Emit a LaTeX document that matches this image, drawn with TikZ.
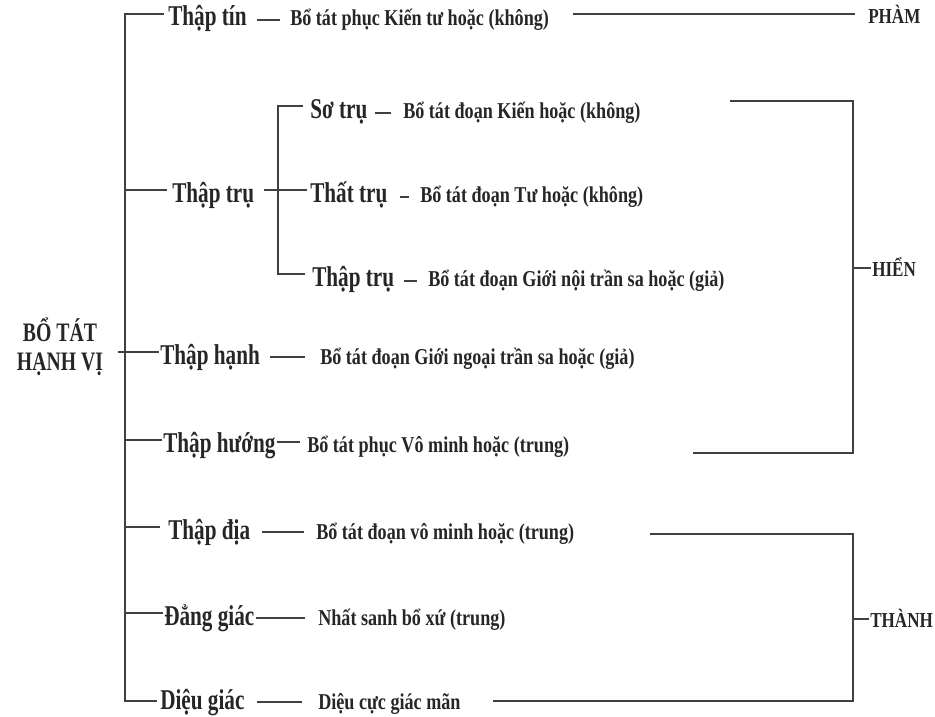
\documentclass[tikz,border=0pt]{standalone}
\usepackage{fontspec}
\setmainfont{Liberation Serif}[FakeStretch=0.8]
\newfontfamily\bigfont{Liberation Serif}[FakeStretch=0.74]
\usetikzlibrary{calc}
\begin{document}
\begin{tikzpicture}[x=0.75pt,y=-0.75pt,
  ln/.style={line width=1.6pt, draw=black!75},
  dashln/.style={line width=1.3pt, draw=black!75},
  big/.style={anchor=base west, inner sep=0pt, font=\bigfont\bfseries\fontsize{21.5}{22}\selectfont, text=black!85},
  small/.style={anchor=base west, inner sep=0pt, font=\bfseries\fontsize{17}{17}\selectfont, text=black!85},
  tag/.style={anchor=base west, inner sep=0pt, font=\bfseries\fontsize{16}{16}\selectfont, text=black!85},
  rootst/.style={inner sep=0pt, align=center, font=\bigfont\bfseries\fontsize{20}{21.5}\selectfont, text=black!85}
]
\useasboundingbox (0,0) rectangle (935,717);

% root
\node[rootst] (root) at (60,347) {BỔ TÁT\\HẠNH VỊ};

% labels
\node[big] (L1) at (168,26) {Thập tín};
\node[small] (D1) at (290,26) {Bổ tát phục Kiến tư hoặc (không)};
\node[tag] (PHAM) at (868,24) {PHÀM};

\node[big] (L2) at (172,202) {Thập trụ};
\node[big] (S1) at (310,118) {Sơ trụ};
\node[small] (SD1) at (403,118) {Bổ tát đoạn Kiến hoặc (không)};
\node[big] (S2) at (310,202) {Thất trụ};
\node[small] (SD2) at (420,202) {Bổ tát đoạn Tư hoặc (không)};
\node[big] (S3) at (312,286) {Thập trụ};
\node[small] (SD3) at (428,286) {Bổ tát đoạn Giới nội trần sa hoặc (giả)};

\node[big] (L3) at (160,364) {Thập hạnh};
\node[small] (D3) at (320,364) {Bổ tát đoạn Giới ngoại trần sa hoặc (giả)};
\node[big] (L4) at (163,452) {Thập hướng};
\node[small] (D4) at (307,452) {Bổ tát phục Vô minh hoặc (trung)};
\node[tag] (HIEN) at (872,276) {HIỂN};

\node[big] (L5) at (168,539) {Thập địa};
\node[small] (D5) at (316,539) {Bổ tát đoạn vô minh hoặc (trung)};
\node[big] (L6) at (164,625) {Đẳng giác};
\node[small] (D6) at (318,625) {Nhất sanh bổ xứ (trung)};
\node[big] (L7) at (160,709) {Diệu giác};
\node[small] (D7) at (318,709) {Diệu cực giác mãn};
\node[tag] (THANH) at (870,627) {THÀNH};

% spine coordinates
\coordinate (c1) at (125,14);
\coordinate (c2) at (125,190);
\coordinate (c3) at (118,352);
\coordinate (c4) at (125,440);
\coordinate (c5) at (125,527);
\coordinate (c6) at (125,613);
\coordinate (c7) at (125,701);

% main spine
\draw[ln, shorten <=3pt, shorten >=2pt] (L1.base west |- c1) -- (c1) -- (c7) -- (L7.base west |- c7);
\draw[ln, shorten >=4pt] (c2) -- (L2.base west |- c2);
\draw[ln, shorten >=0.5pt] (c3) -- (L3.base west |- c3);
\draw[ln, shorten >=0.5pt] (c4) -- (L4.base west |- c4);
\draw[ln, shorten >=6pt] (c5) -- (L5.base west |- c5);
\draw[ln, shorten >=0.5pt] (c6) -- (L6.base west |- c6);

% sub spine
\coordinate (v1) at (278,106);
\coordinate (v2) at (278,190);
\coordinate (v3) at (278,274);
\draw[ln, shorten <=5pt, shorten >=5pt] (S1.base west |- v1) -- (v1) -- (v3) -- (S3.base west |- v3);
\draw[ln, shorten >=2pt] ($(L2.base east)+(10,-12)$) -- (v2) -- (S2.base west |- v2);

% dashes
\draw[dashln] ($(L1.base east)+(10,-6)$) -- ($(D1.base west)+(-10,-6)$);
\draw[dashln] ($(S1.base east)+(7,-5)$) -- ($(SD1.base west)+(-12,-5)$);
\draw[dashln] ($(S2.base east)+(12,-5)$) -- ($(SD2.base west)+(-11,-5)$);
\draw[dashln] ($(S3.base east)+(10,-5)$) -- ($(SD3.base west)+(-11,-5)$);
\draw[dashln] ($(L3.base east)+(10,-7)$) -- ($(D3.base west)+(-15,-7)$);
\draw[dashln] ($(L4.base east)+(1,-10)$) -- ($(D4.base west)+(-7,-10)$);
\draw[dashln] ($(L5.base east)+(12,-7)$) -- ($(D5.base west)+(-12,-7)$);
\draw[dashln] ($(L6.base east)+(1,-7)$) -- ($(D6.base west)+(-13,-7)$);
\draw[dashln] ($(L7.base east)+(12,-7)$) -- ($(D7.base west)+(-16,-7)$);

% PHAM line
\draw[ln] ($(D1.base east)+(24,-12)$) -- ($(PHAM.base west)+(-13,-10)$);

% HIEN bracket
\coordinate (hA) at (730,101);
\coordinate (hB) at (853,101);
\coordinate (hC) at (853,453);
\coordinate (hD) at (693,453);
\coordinate (hM) at (853,268);
\draw[ln] (hA) -- (hB) -- (hC) -- (hD);
\draw[ln, shorten >=1pt] (hM) -- (HIEN.base west |- hM);

% THANH bracket
\coordinate (tA) at (650,534);
\coordinate (tB) at (853,534);
\coordinate (tC) at (853,701);
\coordinate (tD) at (493,701);
\coordinate (tM) at (853,619);
\draw[ln] (tA) -- (tB) -- (tC) -- (tD);
\draw[ln, shorten >=1pt] (tM) -- (THANH.base west |- tM);
\end{tikzpicture}
\end{document}
